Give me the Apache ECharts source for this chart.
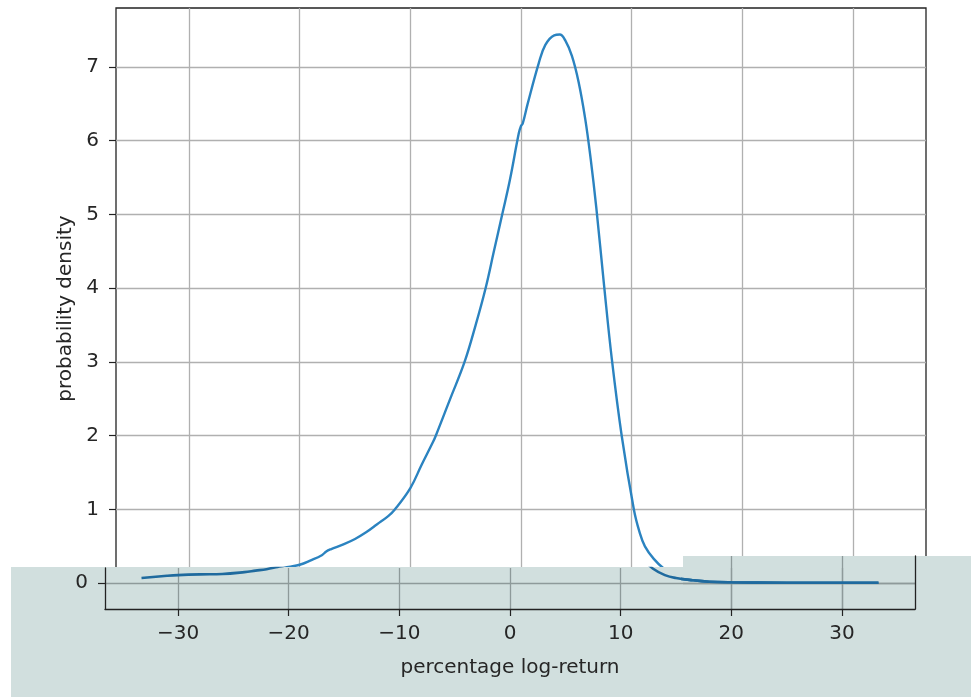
<!DOCTYPE html>
<html>
<head>
<meta charset="utf-8">
<script src="https://cdn.jsdelivr.net/npm/echarts@6/dist/echarts.min.js"></script>
<style>html,body{margin:0;padding:0;background:#fff;}#c{width:971px;height:697px;}</style>
</head>
<body>
<div id="c"></div>
<script>
// percentage log-return (x) and probability density (y)
const xVals = [-33.3, -31, -30, -28, -26, -24, -23, -22, -21, -20, -19, -18, -17.6, -17.2, -16, -15, -14, -13, -12, -11.4, -10, -9, -8, -7.7, -6.4, -5.1, -4.1, -3.2, -2.45, -1.7, -1.0, -0.2, 0.0, 0.15, 0.6, 1.6, 2.2, 3.0, 3.5, 4.0, 4.6, 5.2, 5.8, 6.3, 6.8, 7.5, 8.2, 9.1, 10.2, 10.7, 11.2, 12.0, 12.9, 14.0, 15.0, 16.5, 18.0, 20.0, 25.0, 30.0, 33.3];
const yVals = [0.07, 0.10, 0.11, 0.12, 0.125, 0.15, 0.17, 0.19, 0.22, 0.25, 0.31, 0.38, 0.43, 0.46, 0.53, 0.60, 0.69, 0.80, 0.91, 1.0, 1.29, 1.6, 1.9, 2.0, 2.5, 3.0, 3.5, 4.0, 4.5, 5.0, 5.47, 6.1, 6.2, 6.23, 6.5, 7.05, 7.3, 7.43, 7.44, 7.36, 7.15, 6.8, 6.3, 5.75, 5.1, 4.05, 3.05, 2.0, 1.0, 0.7, 0.5, 0.33, 0.2, 0.11, 0.07, 0.04, 0.02, 0.012, 0.006, 0.005, 0.005];
const xTicks = [-30, -20, -10, 0, 10, 20, 30];
const yTicks = [0, 1, 2, 3, 4, 5, 6, 7];
const xName = 'percentage log-return';
const yName = 'probability density';

const data = xVals.map((x, i) => [x, yVals[i]]);

const X_MIN = -36.6, X_MAX = 36.6, Y_MIN = -0.35, Y_MAX = 7.8;
const PW = 810, PH = 601, TOP = 8;
const pxU = PW / (X_MAX - X_MIN);
const pyU = PH / (Y_MAX - Y_MIN);
const B_LEFT = 105, B1_TOP = 568, B2_LEFT = 683, B2_TOP = 556, BOTTOM_Y = TOP + PH;
const b1YMax = Y_MIN + (BOTTOM_Y - B1_TOP) / pyU;
const b2YMax = Y_MIN + (BOTTOM_Y - B2_TOP) / pyU;
const b2XMin = X_MIN + (B2_LEFT - B_LEFT) / pxU;

const font = 'DejaVu Sans';
const fs = 20;
const txt = '#262626';
const gridCol = '#b0b0b0';
const gridColB = '#8e9a9a';
const spine = '#222';

const chart = echarts.init(document.getElementById('c'), null, {renderer: 'canvas'});
chart.setOption({
  animation: false,
  backgroundColor: '#fff',
  grid: [
    {left: 116, top: TOP, width: PW, height: PH, show: true, borderColor: spine, borderWidth: 1.3, backgroundColor: 'transparent'},
    {left: B_LEFT, top: B1_TOP, width: PW, height: BOTTOM_Y - B1_TOP, z: 20},
    {left: B2_LEFT, top: B2_TOP, width: B_LEFT + PW - B2_LEFT, height: BOTTOM_Y - B2_TOP, z: 20}
  ],
  xAxis: [
    {gridIndex: 0, type: 'value', min: X_MIN, max: X_MAX,
     axisLine: {show: false, onZero: false},
     axisTick: {show: false, customValues: xTicks},
     axisLabel: {show: false, customValues: xTicks},
     splitLine: {show: true, lineStyle: {color: gridCol, width: 1.3}}},
    {gridIndex: 1, type: 'value', min: X_MIN, max: X_MAX, z: 20,
     axisLine: {show: true, onZero: false, lineStyle: {color: spine, width: 1.3}},
     axisTick: {show: true, length: 7, customValues: xTicks, lineStyle: {color: spine, width: 1.2}},
     axisLabel: {show: true, customValues: xTicks, margin: 15, fontFamily: font, fontSize: fs, color: txt,
       formatter: v => (v < 0 ? '\u2212' + Math.abs(v) : String(v))},
     splitLine: {show: true, lineStyle: {color: gridColB, width: 1.3}},
     name: xName, nameLocation: 'middle', nameGap: 49,
     nameTextStyle: {fontFamily: font, fontSize: fs, color: txt}},
    {gridIndex: 2, type: 'value', min: b2XMin, max: X_MAX, z: 20,
     axisLine: {show: false, onZero: false},
     axisTick: {show: false, customValues: [20, 30]},
     axisLabel: {show: false, customValues: [20, 30]},
     splitLine: {show: true, lineStyle: {color: gridColB, width: 1.3}}}
  ],
  yAxis: [
    {gridIndex: 0, type: 'value', min: Y_MIN, max: Y_MAX,
     axisLine: {show: false, onZero: false},
     axisTick: {show: true, length: 7, customValues: yTicks, lineStyle: {color: spine, width: 1.2}},
     axisLabel: {show: true, customValues: yTicks, margin: 17, fontFamily: font, fontSize: fs, color: txt},
     splitLine: {show: true, lineStyle: {color: gridCol, width: 1.3}},
     name: yName, nameLocation: 'middle', nameGap: 40,
     nameTextStyle: {fontFamily: font, fontSize: fs, color: txt}},
    {gridIndex: 1, type: 'value', min: Y_MIN, max: b1YMax, z: 20,
     axisLine: {show: true, onZero: false, lineStyle: {color: spine, width: 1.3}},
     axisTick: {show: true, length: 7, customValues: [0], lineStyle: {color: spine, width: 1.2}},
     axisLabel: {show: true, customValues: [0], margin: 17, fontFamily: font, fontSize: fs, color: txt},
     splitLine: {show: true, lineStyle: {color: gridColB, width: 1.3}}},
    {gridIndex: 2, type: 'value', min: Y_MIN, max: b2YMax, position: 'right', z: 20,
     axisLine: {show: true, onZero: false, lineStyle: {color: spine, width: 1.3}},
     axisTick: {show: false, customValues: [0]},
     axisLabel: {show: false, customValues: [0]},
     splitLine: {show: true, lineStyle: {color: gridColB, width: 1.3}}}
  ],
  graphic: [
    {type: 'polygon', z: 10, silent: true,
     shape: {points: [[11, B1_TOP - 1], [B2_LEFT, B1_TOP - 1], [B2_LEFT, B2_TOP], [971, B2_TOP], [971, 697], [11, 697]]},
     style: {fill: '#d1dfde'}}
  ],
  series: [
    {type: 'line', xAxisIndex: 0, yAxisIndex: 0, data: data, showSymbol: false, smooth: 0.4,
     lineStyle: {color: '#2b83c0', width: 2.4}, z: 2},
    {type: 'line', xAxisIndex: 1, yAxisIndex: 1, data: data, showSymbol: false, smooth: 0.4,
     lineStyle: {color: '#1f6a9e', width: 2.6}, z: 30},
    {type: 'line', xAxisIndex: 2, yAxisIndex: 2, data: data, showSymbol: false, smooth: 0.4,
     lineStyle: {color: '#1f6a9e', width: 2.6}, z: 30}
  ]
});
</script>
</body>
</html>
